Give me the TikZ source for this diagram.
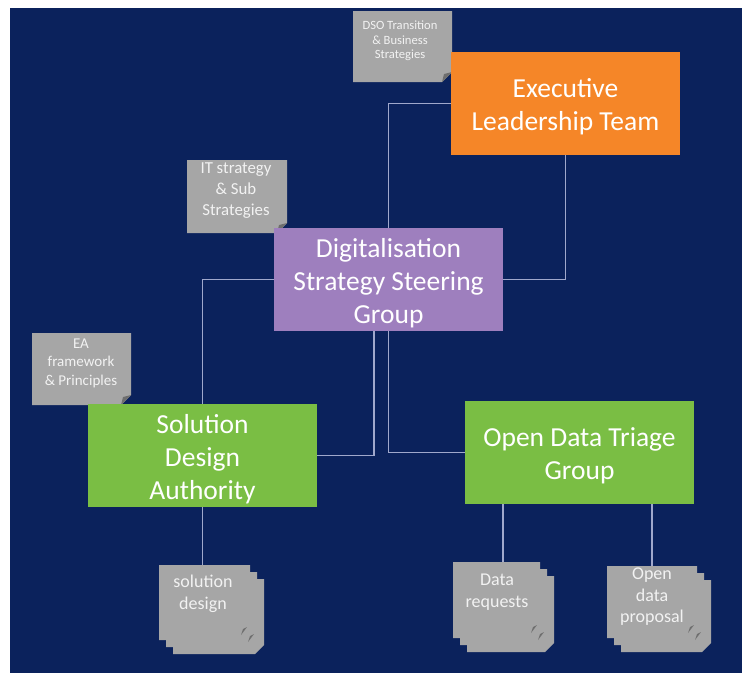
\documentclass[tikz,border=0pt]{standalone}
\usepackage{fontspec}
\setmainfont{Carlito}
\begin{document}
\definecolor{navy}{RGB}{11,34,92}
\definecolor{eltorange}{RGB}{245,134,40}
\definecolor{dsgpurple}{RGB}{158,127,190}
\definecolor{boxgreen}{RGB}{122,190,68}
\definecolor{notegray}{RGB}{166,166,166}
\definecolor{folddark}{RGB}{110,110,110}
\definecolor{linkcol}{RGB}{160,168,204}
\definecolor{notetext}{RGB}{242,242,242}
\begin{tikzpicture}[x=1pt,y=-1pt,
  mainbox/.style={minimum width=229pt,minimum height=103pt,inner sep=0pt},
  boxtxt/.style={text=white,align=center,inner sep=0pt,font=\fontsize{27.5}{33}\selectfont},
  notetxt/.style={text=notetext,align=center,inner sep=0pt},
  sheettxt/.style={text=notetext,align=center,inner sep=0pt,font=\fontsize{18}{22}\selectfont},
  link/.style={draw=linkcol,line width=1.1pt}]
% canvas and backdrop
\useasboundingbox (0,0) rectangle (743,673);
\fill[white] (0,0) rectangle (743,673);
\fill[navy] (10,8) rectangle (742,673);

% folded-corner note: x1,y1,x2,y2 (corner size 10)
\newcommand{\foldnote}[4]{%
  \fill[notegray] (#1,#2) -- (#3,#2) -- (#3,#4-10) -- (#3-10,#4) -- (#1,#4) -- cycle;
  \fill[folddark] (#3,#4-10) -- (#3-10,#4) -- (#3-8,#4-8) -- cycle;}
% stack of three sheets; front sheet x1,y1,x2,y2, offset 7 per sheet
\newcommand{\sheetstack}[4]{%
  \foreach \k in {2,1,0}{%
    \fill[notegray] (#1+7*\k,#2+7*\k) -- (#3+7*\k,#2+7*\k) -- (#3+7*\k,#4+7*\k-9)
      -- (#3+7*\k-9,#4+7*\k) -- (#1+7*\k,#4+7*\k) -- cycle;}
  \foreach \k in {0,1}{%
    \fill[folddark] (#3+7*\k-3,#4+7*\k-13) -- (#3+7*\k-9,#4+7*\k-5) -- (#3+7*\k-7,#4+7*\k-11) -- cycle;}}

% notes
\foldnote{353}{11}{452}{82}
\node[notetxt,font=\fontsize{12.6}{14.5}\selectfont] (dso) at (400,41) {DSO Transition\\\& Business\\Strategies};
\foldnote{187}{160}{287}{233}
\node[notetxt,font=\fontsize{16.8}{21}\selectfont] (itnote) at (236,191) {IT strategy\\\& Sub\\Strategies};
\foldnote{32}{333}{131}{405}
\node[notetxt,font=\fontsize{15}{18.5}\selectfont] (eanote) at (81,363) {EA\\framework\\\& Principles};

% main boxes
\node[mainbox,fill=eltorange] (elt) at (565.5,103.5) {};
\node[boxtxt] (elttxt) at (565.5,106.5) {Executive\\Leadership Team};
\node[mainbox,fill=dsgpurple] (dssg) at (388.5,279.5) {};
\node[boxtxt] (dssgtxt) at (388.5,283) {Digitalisation\\Strategy Steering\\Group};
\node[mainbox,fill=boxgreen] (sda) at (202.5,455.5) {};
\node[boxtxt] (sdatxt) at (202.5,459) {Solution\\Design\\Authority};
\node[mainbox,fill=boxgreen] (odtg) at (579.5,452.5) {};
\node[boxtxt] (odtgtxt) at (579.5,456) {Open Data Triage\\Group};

% document stacks
\sheetstack{159}{565}{250}{640}
\node[minimum width=91pt,minimum height=75pt,inner sep=0pt] (soldoc) at (204.5,602.5) {};
\node[sheettxt] (soldoctxt) at (203,594) {solution\\design};
\sheetstack{453}{562}{540}{638}
\node[minimum width=87pt,minimum height=76pt,inner sep=0pt] (datreq) at (496.5,600) {};
\node[sheettxt] (datreqtxt) at (497,592.5) {Data\\requests};
\sheetstack{607}{566}{697}{638}
\node[minimum width=90pt,minimum height=72pt,inner sep=0pt] (odprop) at (652,602) {};
\node[sheettxt,font=\fontsize{18}{21.5}\selectfont] (odproptxt) at (652,597) {Open\\data\\proposal};

% connectors
\draw[link] (elt.west) -| (dssg.north);
\draw[link] (elt.south) |- (dssg.east);
\draw[link] (dssg.west) -| (sda.north);
\draw[link] ([xshift=-14.5pt]dssg.south) |- (sda.east);
\draw[link] (dssg.south) |- (odtg.west);
\draw[link] (sda.south) -- (sda.south |- soldoc.north);
\draw[link] ([xshift=6.5pt]datreq.north) -- ([xshift=6.5pt]datreq.north |- odtg.south);
\draw[link] (odprop.north) -- (odprop.north |- odtg.south);
\end{tikzpicture}
\end{document}
